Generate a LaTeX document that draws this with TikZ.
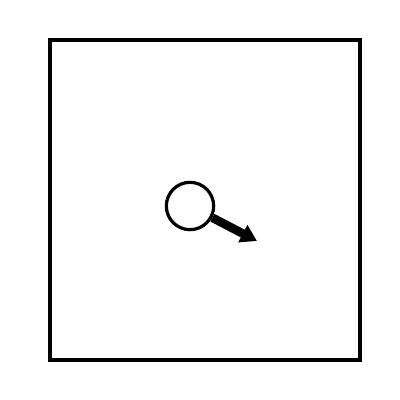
\documentclass[tikz,border=0pt]{standalone}
\usetikzlibrary{arrows.meta}
\begin{document}
\begin{tikzpicture}[x=0.75pt,y=-0.75pt,
  frame/.style={draw=black,line width=3pt,minimum width=232.5pt,minimum height=240pt,inner sep=0pt},
  ring/.style={circle,draw=black,line width=2.4pt,minimum size=35.5pt,inner sep=0pt},
  pointer/.style={line width=6.5pt,-{Triangle[width=14pt,length=12pt]}}]
\useasboundingbox (0,0) rectangle (400,400);
\node[frame] (box) at (205,200) {};
\node[ring] (c) at (190,206) {};
\coordinate (tip) at (257,241);
\draw[pointer] (c) -- (tip);
\end{tikzpicture}
\end{document}
